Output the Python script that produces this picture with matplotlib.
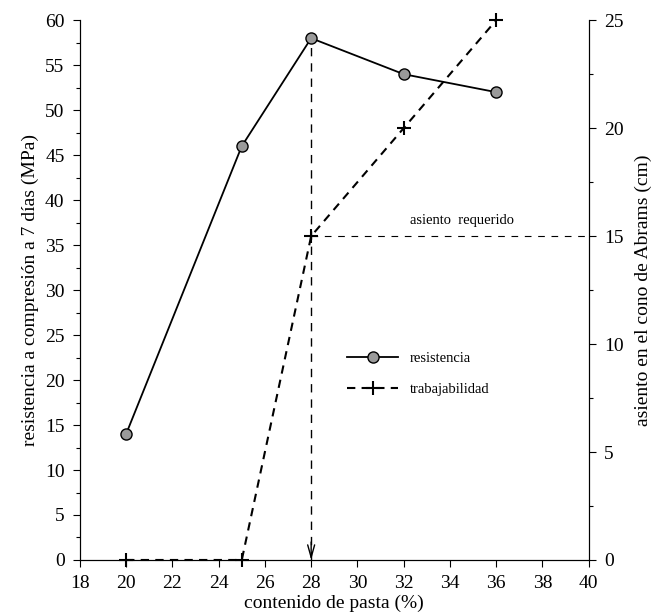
import matplotlib.pyplot as plt
from matplotlib.ticker import MultipleLocator

# contenido de pasta (%)
pasta = [20, 25, 28, 32, 36]
resistencia = [14, 46, 58, 54, 52]      # MPa, left axis
asiento = [0, 0, 15, 20, 25]            # cm, right axis
asiento_req = 15
pasta_opt = 28

plt.rcParams['font.family'] = ['Liberation Serif', 'DejaVu Serif']

fig = plt.figure(figsize=(6.6, 6.12), dpi=100)
ax = fig.add_axes([0.121, 0.085, 0.771, 0.882])
ax2 = ax.twinx()

l1, = ax.plot(pasta, resistencia, '-', color='black', lw=1.3,
              marker='o', markersize=8, markerfacecolor='#9a9a9a',
              markeredgecolor='black', markeredgewidth=1.0, label='resistencia',
              clip_on=False, zorder=4)
l2, = ax2.plot(pasta, asiento, '--', color='black', lw=1.5, dashes=(4, 3),
               marker='+', markersize=10, markeredgewidth=1.5, label='trabajabilidad',
               clip_on=False, zorder=4)

# required slump line and arrow at the optimum paste content
ax2.plot([pasta_opt, 40], [asiento_req, asiento_req], color='black', lw=0.8,
         dashes=(6, 6))
ax2.text(34.5, asiento_req + 0.4, 'asiento  requerido', fontsize=10.5,
         ha='center', va='bottom')
ax.plot([pasta_opt, pasta_opt], [0, resistencia[2]], color='black', lw=1.0,
        dashes=(6, 5))
# solid arrow head at the bottom of the vertical line
ax.annotate('', xy=(pasta_opt, 0), xytext=(pasta_opt, 2),
            arrowprops=dict(arrowstyle='->,head_length=0.9,head_width=0.25',
                            color='black', lw=1.0, shrinkA=0, shrinkB=0))

ax.set_xlim(18, 40)
ax.set_ylim(0, 60)
ax2.set_ylim(0, 25)
ax.xaxis.set_major_locator(MultipleLocator(2))
ax.yaxis.set_major_locator(MultipleLocator(5))
ax.yaxis.set_minor_locator(MultipleLocator(2.5))
ax2.yaxis.set_major_locator(MultipleLocator(5))
ax2.yaxis.set_minor_locator(MultipleLocator(2.5))

for a in (ax, ax2):
    a.spines['top'].set_visible(False)
    a.tick_params(which='both', direction='out', labelsize=14, width=0.8, pad=6)
    a.tick_params(which='major', length=5)
    a.tick_params(which='minor', length=3)

ax.set_xlabel('contenido de pasta (%)', fontsize=14, labelpad=2)
ax.set_ylabel('resistencia a compresión a 7 días (MPa)', fontsize=14, labelpad=4)
ax2.set_ylabel('asiento en el cono de Abrams (cm)', fontsize=14, labelpad=8)

ax.legend(handles=[l1, l2], loc='upper left', bbox_to_anchor=(0.5, 0.41),
          frameon=False, fontsize=10.5, handlelength=3.5, labelspacing=1.2)

fig.savefig('out.png', dpi=100)
